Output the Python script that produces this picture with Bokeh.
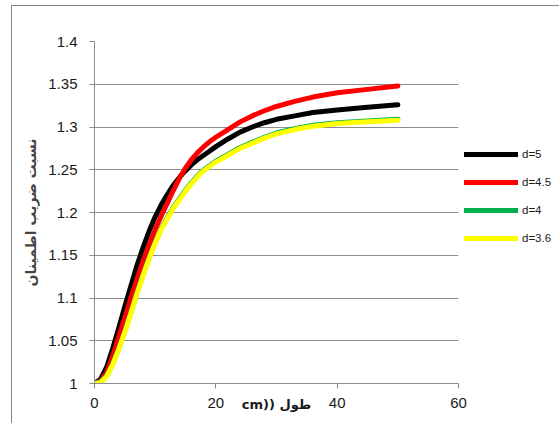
from bokeh.plotting import figure
from bokeh.models import (ColumnDataSource, FixedTicker, CustomJSTickFormatter,
                          Legend, LegendItem, Range1d)
from bokeh.embed import file_html
from bokeh.resources import INLINE
from bokeh.core.templates import get_env

# length along the member (cm)
length_cm = [0, 1, 2, 3, 4, 5, 6, 7, 8, 9, 10, 11, 12, 13, 14, 15, 16, 17, 18, 19, 20,
             22, 24, 26, 28, 30, 33, 36, 40, 45, 50]

# safety-factor ratio for each diameter
ratio_d5 = [1.000, 1.005, 1.019, 1.041, 1.065, 1.090, 1.114, 1.138, 1.159, 1.178, 1.195,
            1.209, 1.221, 1.232, 1.241, 1.249, 1.256, 1.262, 1.267, 1.272, 1.277,
            1.286, 1.294, 1.300, 1.305, 1.309, 1.313, 1.317, 1.320, 1.323, 1.326]
ratio_d45 = [1.000, 1.003, 1.013, 1.032, 1.055, 1.077, 1.100, 1.122, 1.143, 1.162, 1.180,
             1.196, 1.211, 1.226, 1.240, 1.252, 1.262, 1.270, 1.277, 1.283, 1.288,
             1.297, 1.306, 1.313, 1.319, 1.324, 1.330, 1.335, 1.340, 1.344, 1.348]
ratio_d4 = [1.000, 1.002, 1.009, 1.023, 1.041, 1.061, 1.083, 1.106, 1.127, 1.147, 1.165,
            1.181, 1.194, 1.206, 1.216, 1.226, 1.235, 1.243, 1.250, 1.255, 1.260,
            1.268, 1.276, 1.282, 1.288, 1.293, 1.298, 1.302, 1.305, 1.307, 1.309]
ratio_d36 = [1.000, 1.001, 1.008, 1.022, 1.040, 1.060, 1.082, 1.105, 1.126, 1.146, 1.164,
             1.180, 1.193, 1.205, 1.215, 1.225, 1.234, 1.242, 1.249, 1.254, 1.259,
             1.267, 1.275, 1.281, 1.287, 1.292, 1.297, 1.301, 1.304, 1.306, 1.308]

series_names = ["d=5", "d=4.5", "d=4", "d=3.6"]
series_colors = ["#000000", "#FF0000", "#00B050", "#FFFF00"]

x_ticks = [0, 20, 40, 60]
y_ticks = [1.0, 1.05, 1.1, 1.15, 1.2, 1.25, 1.3, 1.35, 1.4]

y_title = "نسبت ضریب اطمینان"
x_title = "cm)) طول"

grid_grey = "#8c8c8c"
tick_font = "Liberation Sans"

p = figure(frame_width=364, frame_height=342,
           min_border_left=94, min_border_top=41, min_border_bottom=40,
           min_border_right=0,
           x_range=Range1d(0, 60), y_range=Range1d(1.0, 1.4),
           output_backend="svg", toolbar_location=None,
           background_fill_color="white", border_fill_color="white")
p.outline_line_color = None

# grid: horizontal lines only
p.xgrid.grid_line_color = None
p.ygrid.grid_line_color = grid_grey
p.ygrid.grid_line_width = 1

p.xaxis.ticker = FixedTicker(ticks=x_ticks)
p.yaxis.ticker = FixedTicker(ticks=y_ticks)
p.yaxis.formatter = CustomJSTickFormatter(code="return String(parseFloat(tick.toFixed(2)));")

for ax in (p.xaxis[0], p.yaxis[0]):
    ax.axis_line_color = grid_grey
    ax.major_tick_line_color = grid_grey
    ax.major_tick_in = 0
    ax.major_tick_out = 5
    ax.minor_tick_line_color = None
    ax.major_label_text_font = tick_font
    ax.major_label_text_font_size = "15px"
    ax.major_label_text_color = "#1a1a1a"

p.xaxis.major_label_standoff = 9
p.yaxis.major_label_standoff = 12

p.yaxis.axis_label = y_title
p.yaxis.axis_label_text_font = "DejaVu Sans"
p.yaxis.axis_label_text_font_style = "bold"
p.yaxis.axis_label_text_font_size = "14px"
p.yaxis.axis_label_standoff = 6

# x title sits on the tick-label row, centred under the plot
p.xaxis.axis_label = x_title
p.xaxis.axis_label_text_font = "DejaVu Sans"
p.xaxis.axis_label_text_font_style = "bold"
p.xaxis.axis_label_text_font_size = "13px"
p.xaxis.axis_label_text_color = "#1a1a1a"
p.xaxis.axis_label_standoff = -14

src = ColumnDataSource(dict(x=length_cm, d5=ratio_d5, d45=ratio_d45,
                            d4=ratio_d4, d36=ratio_d36))
items = []
for col, name, color in zip(["d5", "d45", "d4", "d36"], series_names, series_colors):
    r = p.line("x", col, source=src, line_color=color, line_width=5,
               line_cap="round", line_join="round")
    items.append(LegendItem(label=name, renderers=[r]))

legend = Legend(items=items, location=(6, 135), orientation="vertical",
                glyph_width=54, glyph_height=20, label_height=20,
                label_standoff=4, spacing=8, padding=0, margin=0,
                border_line_color=None, background_fill_alpha=0,
                label_text_font=tick_font, label_text_font_size="11.5px",
                label_text_color="#1a1a1a")
p.add_layout(legend, "right")

# page template: thin grey chart-area border along the left and top edges
page_template = get_env().from_string("""{% extends base %}
{% block preamble %}
<style>
  body::after {
    content: "";
    position: fixed;
    left: 11px;
    top: 5px;
    width: 800px;
    height: 800px;
    border-left: 1px solid #868686;
    border-top: 1px solid #868686;
    pointer-events: none;
    z-index: 1000;
  }
</style>
{% endblock %}""")

open("out.html", "w").write(file_html(p, INLINE, template=page_template))
